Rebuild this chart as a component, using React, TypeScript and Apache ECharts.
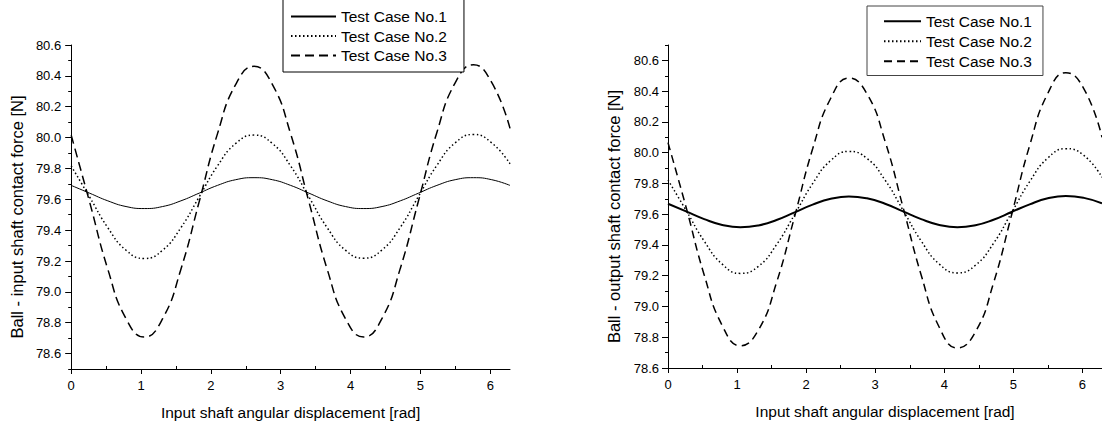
import React, { useEffect, useRef } from "react";
import * as echarts from "echarts";

const FONT = '"Liberation Sans", Arial, Helvetica, sans-serif';
const TWO_PI = 6.283;

const seriesNames = ["Test Case No.1", "Test Case No.2", "Test Case No.3"];
const xTitle = "Input shaft angular displacement [rad]";
const leftYTitle = "Ball - input shaft contact force [N]";
const rightYTitle = "Ball - output shaft contact force [N]";

const xMajorTicks = [0, 1, 2, 3, 4, 5, 6];
const xMinorTicks = [0.5, 1.5, 2.5, 3.5, 4.5, 5.5];
const yMajorTicks = [78.6, 78.8, 79.0, 79.2, 79.4, 79.6, 79.8, 80.0, 80.2, 80.4, 80.6];
const leftYMinorTicks = [78.5, 78.7, 78.9, 79.1, 79.3, 79.5, 79.7, 79.9, 80.1, 80.3, 80.5];
const rightYMinorTicks = [78.7, 78.9, 79.1, 79.3, 79.5, 79.7, 79.9, 80.1, 80.3, 80.5, 80.7];

// angular displacement [rad]
const angles = [0, 0.262, 0.524, 0.785, 1.047, 1.309, 1.571, 1.833, 2.094, 2.356, 2.618, 2.88, 3.142, 3.403, 3.665, 3.927, 4.189, 4.451, 4.712, 4.974, 5.236, 5.498, 5.76, 6.021, 6.283];

const leftCase1 = [79.69, 79.64, 79.59, 79.553, 79.54, 79.553, 79.59, 79.64, 79.69, 79.727, 79.74, 79.727, 79.69, 79.64, 79.59, 79.553, 79.54, 79.553, 79.59, 79.64, 79.69, 79.727, 79.74, 79.727, 79.69];
const leftCase2 = [79.816, 79.616, 79.416, 79.27, 79.216, 79.27, 79.416, 79.616, 79.816, 79.962, 80.016, 79.962, 79.816, 79.616, 79.416, 79.27, 79.218, 79.272, 79.418, 79.62, 79.82, 79.966, 80.02, 79.966, 79.83];
const leftCase3 = [80.015, 79.585, 79.147, 78.826, 78.707, 78.826, 79.147, 79.585, 80.024, 80.345, 80.462, 80.345, 80.024, 79.585, 79.147, 78.826, 78.707, 78.828, 79.152, 79.592, 80.033, 80.355, 80.472, 80.357, 80.06];

const rightCase1 = [79.668, 79.618, 79.568, 79.53, 79.515, 79.527, 79.562, 79.612, 79.662, 79.7, 79.715, 79.703, 79.668, 79.618, 79.568, 79.53, 79.515, 79.528, 79.564, 79.614, 79.664, 79.703, 79.718, 79.706, 79.671];
const rightCase2 = [79.822, 79.625, 79.425, 79.275, 79.215, 79.261, 79.402, 79.598, 79.799, 79.949, 80.008, 79.963, 79.822, 79.626, 79.426, 79.276, 79.218, 79.268, 79.41, 79.61, 79.812, 79.965, 80.026, 79.982, 79.84];
const rightCase3 = [80.065, 79.645, 79.205, 78.876, 78.745, 78.847, 79.155, 79.585, 80.025, 80.354, 80.485, 80.383, 80.075, 79.645, 79.205, 78.865, 78.73, 78.835, 79.152, 79.595, 80.047, 80.385, 80.52, 80.415, 80.1];

type PanelCfg = {
  yTitle: string;
  yMin: number;
  yMax: number;
  yMinor: number[];
  cases: number[][];
  widths: number[];
  dashes: (number[] | "solid")[];
  grid: { left: number; top: number; width: number; height: number };
  legend: { left: number; top: number; itemWidth: number; itemGap: number; padding: number[]; borderColor: string };
  yNameGap: number;
  yLabelMargin: number;
};

function buildOption(cfg: PanelCfg): any {
  const axisCommon = {
    splitLine: { show: false },
    axisLine: { show: true, onZero: false, lineStyle: { color: "#000", width: 1 } },
  };
  return {
    animation: false,
    backgroundColor: "#fff",
    grid: { ...cfg.grid, containLabel: false },
    legend: {
      orient: "vertical",
      left: cfg.legend.left,
      top: cfg.legend.top,
      itemWidth: cfg.legend.itemWidth,
      itemHeight: 14,
      itemGap: cfg.legend.itemGap,
      padding: cfg.legend.padding,
      borderColor: cfg.legend.borderColor,
      borderWidth: 1,
      backgroundColor: "#fff",
      selectedMode: false,
      itemStyle: { color: "rgba(0,0,0,0)", borderWidth: 0, opacity: 0 },
      textStyle: { fontFamily: FONT, fontSize: 15.5, color: "#000" },
      data: seriesNames,
    },
    xAxis: [
      {
        type: "value",
        min: 0,
        max: TWO_PI,
        position: "bottom",
        ...axisCommon,
        axisTick: { show: true, customValues: xMajorTicks, length: 5, inside: false, lineStyle: { color: "#000" } },
        axisLabel: {
          customValues: xMajorTicks,
          formatter: (v: number) => String(Math.round(v)),
          fontFamily: FONT,
          fontSize: 13,
          color: "#000",
          margin: 10,
        },
        name: xTitle,
        nameLocation: "middle",
        nameGap: 35,
        nameTextStyle: { fontFamily: FONT, fontSize: 15.5, color: "#000" },
      },
      {
        type: "value",
        min: 0,
        max: TWO_PI,
        position: "bottom",
        splitLine: { show: false },
        axisLine: { show: false, onZero: false },
        axisTick: { show: true, customValues: xMinorTicks, length: 3, inside: true, lineStyle: { color: "#000" } },
        axisLabel: { show: false },
      },
    ],
    yAxis: [
      {
        type: "value",
        min: cfg.yMin,
        max: cfg.yMax,
        position: "left",
        ...axisCommon,
        axisTick: { show: true, customValues: yMajorTicks, length: 6, inside: false, lineStyle: { color: "#000" } },
        axisLabel: {
          customValues: yMajorTicks,
          formatter: (v: number) => v.toFixed(1),
          fontFamily: FONT,
          fontSize: 13,
          color: "#000",
          margin: cfg.yLabelMargin,
        },
        name: cfg.yTitle,
        nameLocation: "middle",
        nameGap: cfg.yNameGap,
        nameTextStyle: { fontFamily: FONT, fontSize: 16.5, color: "#000", padding: [0, 20, 0, 0] },
      },
      {
        type: "value",
        min: cfg.yMin,
        max: cfg.yMax,
        position: "left",
        splitLine: { show: false },
        axisLine: { show: false, onZero: false },
        axisTick: { show: true, customValues: cfg.yMinor, length: 3, inside: false, lineStyle: { color: "#000" } },
        axisLabel: { show: false },
      },
    ],
    series: cfg.cases.map((vals, i) => ({
      name: seriesNames[i],
      type: "line",
      xAxisIndex: 0,
      yAxisIndex: 0,
      smooth: 0.5,
      symbol: "none",
      showSymbol: false,
      data: angles.map((a, k) => [a, vals[k]]),
      lineStyle: { color: "#000", width: cfg.widths[i], type: cfg.dashes[i] },
      itemStyle: { color: "#000" },
    })),
  };
}

function Panel({ cfg, left, width }: { cfg: PanelCfg; left: number; width: number }) {
  const ref = useRef<HTMLDivElement>(null);
  useEffect(() => {
    if (!ref.current) return;
    const chart = echarts.init(ref.current, undefined, { renderer: "svg" });
    chart.setOption(buildOption(cfg));
    return () => chart.dispose();
  }, []);
  return <div ref={ref} style={{ position: "absolute", left, top: 0, width, height: 425 }} />;
}

const leftCfg: PanelCfg = {
  yTitle: leftYTitle,
  yMin: 78.5,
  yMax: 80.6,
  yMinor: leftYMinorTicks,
  cases: [leftCase1, leftCase2, leftCase3],
  widths: [1, 1.5, 1.5],
  dashes: ["solid", [1.5, 2.5], [9, 5]],
  grid: { left: 69, top: 45, width: 441, height: 324 },
  legend: { left: 283, top: -2, itemWidth: 45, itemGap: 3.5, padding: [10.5, 17, 8.5, 7], borderColor: "#000" },
  yNameGap: 43,
  yLabelMargin: 10,
};

const rightCfg: PanelCfg = {
  yTitle: rightYTitle,
  yMin: 78.6,
  yMax: 80.7,
  yMinor: rightYMinorTicks,
  cases: [rightCase1, rightCase2, rightCase3],
  widths: [2, 1.5, 1.5],
  dashes: ["solid", [1.5, 2.5], [8, 5]],
  grid: { left: 108, top: 45, width: 439, height: 323 },
  legend: { left: 307, top: 6, itemWidth: 37, itemGap: 4, padding: [7.25, 11, 6.25, 16], borderColor: "#444" },
  yNameGap: 43,
  yLabelMargin: 9,
};

export default function App() {
  return (
    <div style={{ position: "fixed", left: 0, top: 0, width: 1102, height: 425, overflow: "hidden", background: "#fff" }}>
      <Panel cfg={leftCfg} left={0} width={560} />
      <Panel cfg={rightCfg} left={560} width={542} />
    </div>
  );
}
